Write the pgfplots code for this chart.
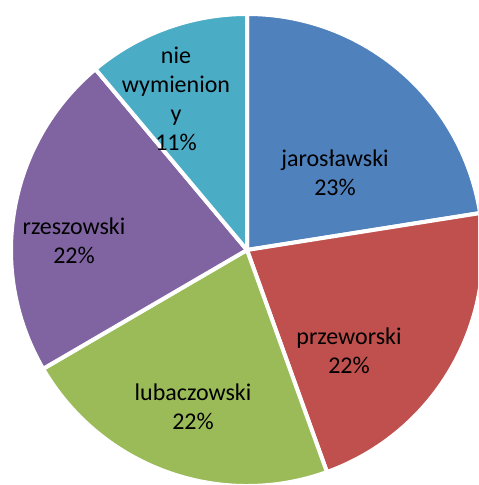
\documentclass[border=0pt]{standalone}
\usepackage{fontspec}
\setmainfont{Carlito}
\usepackage{pgfplots}
\usepackage{pgfplotstable}
\pgfplotsset{compat=1.18}

\definecolor{slice0}{HTML}{4F81BD}
\definecolor{slice1}{HTML}{C0504D}
\definecolor{slice2}{HTML}{9BBB59}
\definecolor{slice3}{HTML}{8064A2}
\definecolor{slice4}{HTML}{4BACC6}

% shares of the pie, clockwise from the top
\pgfplotstableread{
value pct
22.5 23
22.0 22
22.1 22
22.3 22
11.1 11
}\piedata

\begin{document}
\begin{tikzpicture}
\begin{axis}[x=0.5pt,y=0.5pt,
xmin=0,xmax=478,ymin=0,ymax=485,
axis line style={draw=none},xtick=\empty,ytick=\empty,
clip=true]
\def\sang{90}
\pgfplotsforeachungrouped \i in {0,...,4}{%
  \pgfplotstablegetelem{\i}{value}\of\piedata
  \pgfmathsetmacro\span{3.6*\pgfplotsretval}%
  \pgfmathsetmacro\eang{\sang-\span}%
  \edef\cmd{\noexpand\fill[fill=slice\i,draw=white,line width=2pt,line join=round]
    (axis cs:247,235) -- ++(\sang:118pt) arc[start angle=\sang,end angle=\eang,radius=118pt] -- cycle;}%
  \cmd
  \global\let\sang\eang
}
\tikzset{lab/.style={align=center,font=\fontsize{12}{14.5}\selectfont,text=black}}
\node[lab] at (axis cs:335,312) {jarosławski\\23\%};
\node[lab] at (axis cs:349,134) {przeworski\\22\%};
\node[lab] at (axis cs:193,78) {lubaczowski\\22\%};
\node[lab] at (axis cs:74,244) {rzeszowski\\22\%};
\node[lab] at (axis cs:176,386) {nie\\wymienion\\y\\11\%};
\end{axis}
\end{tikzpicture}
\end{document}
